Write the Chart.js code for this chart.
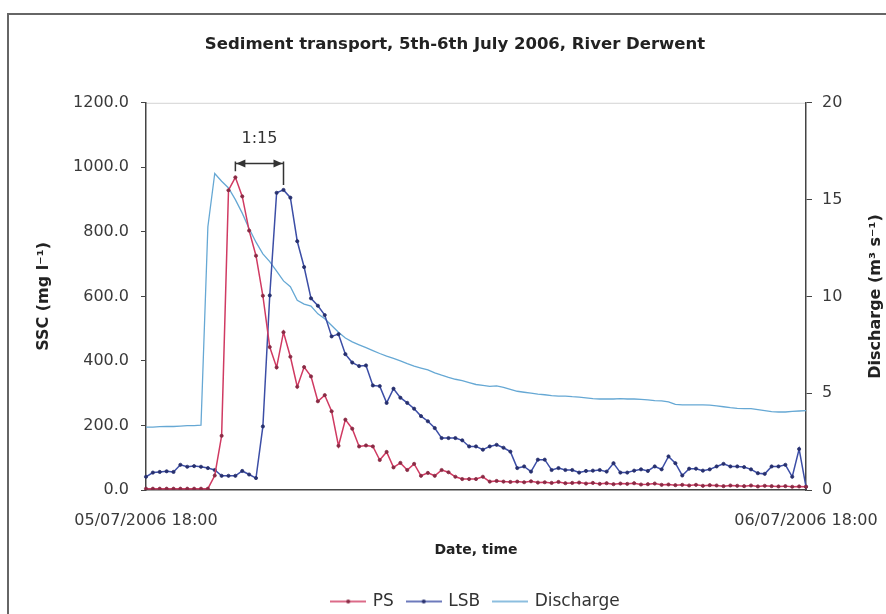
<!DOCTYPE html>
<html>
<head>
<meta charset="utf-8">
<script src="https://cdn.jsdelivr.net/npm/chart.js@4.4.0/dist/chart.umd.min.js"></script>
<style>
  html, body { margin: 0; padding: 0; background: #fff; }
  #wrap { width: 886px; height: 614px; position: relative; }
</style>
</head>
<body>
<div id="wrap"><canvas id="chart"></canvas></div>
<script>
// SSC at PS and LSB, mg/l, one reading every 15 minutes from 05/07/2006 18:00
const psSSC = [
  4, 4, 4, 4, 4, 4, 4, 4, 4, 4,
  45, 168, 929, 969, 910, 804, 726, 602, 443, 380,
  489, 413, 320, 381, 352, 275, 294, 244, 137, 218,
  190, 135, 138, 135, 93, 118, 70, 84, 62, 81,
  44, 53, 44, 62, 55, 41, 34, 34, 34, 41,
  26,
  28, 26, 25, 26, 24, 27, 23, 24, 22, 25,
  21, 22, 23, 20, 22, 19, 21, 18, 20, 19,
  21, 17, 18, 20, 16, 17, 15, 16, 14, 16,
  13, 15, 14, 12, 14, 13, 12, 14, 11, 13,
  12, 11, 12, 10, 11, 10
];
const lsbSSC = [
  41, 54, 56, 58, 56, 78, 72, 74, 72, 68,
  62, 44, 44, 44, 59, 48, 37, 197, 603, 921,
  930, 906, 771, 691, 594, 571, 542, 476, 483, 421,
  395, 384, 386, 324, 322, 270, 314, 286, 270, 252,
  229, 213, 192, 161, 161, 161, 154, 135, 135, 125,
  135, 140, 131, 119, 68, 73, 57, 94, 94, 62,
  68, 62, 62, 54, 59, 60, 62, 57, 83, 54,
  54, 60, 64, 59, 73, 64, 104, 83, 45, 66,
  66, 60, 64, 73, 81, 73, 73, 71, 64, 52,
  50, 73, 73, 78, 41, 127, 10
];
// discharge, m3/s
const discharge = [
  3.25, 3.25, 3.27, 3.28, 3.28, 3.30, 3.32, 3.33, 3.35, 13.6,
  16.35, 15.95, 15.6, 15.0, 14.3, 13.5, 12.8, 12.2, 11.8, 11.3,
  10.8, 10.5, 9.8, 9.6, 9.5, 9.1, 8.85, 8.5, 8.15, 7.85,
  7.65, 7.5, 7.35, 7.2, 7.05, 6.92, 6.8, 6.67, 6.53, 6.4,
  6.3, 6.2, 6.05, 5.93, 5.82, 5.72, 5.65, 5.55, 5.45, 5.4,
  5.35, 5.38, 5.3, 5.2, 5.1, 5.05, 5.0, 4.95, 4.92, 4.88,
  4.85, 4.85, 4.82, 4.8, 4.76, 4.72, 4.7, 4.7, 4.7, 4.72,
  4.7, 4.7, 4.68, 4.66, 4.62, 4.6, 4.55, 4.42, 4.4, 4.4,
  4.4, 4.4, 4.38, 4.35, 4.3, 4.25, 4.22, 4.2, 4.2, 4.15,
  4.1, 4.05, 4.03, 4.03, 4.06, 4.08, 4.1
];

const xTickLabels = ['05/07/2006 18:00', '06/07/2006 18:00'];
const sscTicks = [0, 200, 400, 600, 800, 1000, 1200];
const dischargeTicks = [0, 5, 10, 15, 20];
const lagLabel = '1:15';

// 15 minute time stamps for the category axis
const startTime = new Date(2006, 6, 5, 18, 0);
const pad2 = n => String(n).padStart(2, '0');
const timeLabels = psSSC.map((_, i) => {
  const d = new Date(startTime.getTime() + i * 15 * 60000);
  return pad2(d.getDate()) + '/' + pad2(d.getMonth() + 1) + '/' + d.getFullYear() + ' ' +
    pad2(d.getHours()) + ':' + pad2(d.getMinutes());
});

const FONT = "'DejaVu Sans', sans-serif";
const psColor = '#d03a62', lsbColor = '#3c4ea6', qColor = '#66a8d4';

function legendMark(color, marker) {
  const c = document.createElement('canvas');
  c.width = 36; c.height = 8;
  const g = c.getContext('2d');
  g.strokeStyle = color; g.lineWidth = 1.5;
  g.beginPath(); g.moveTo(0, 4); g.lineTo(36, 4); g.stroke();
  if (marker) {
    g.fillStyle = marker;
    g.beginPath(); g.arc(18, 4, 2, 0, Math.PI * 2); g.fill();
  }
  return c;
}
const legendMarks = [legendMark(psColor, '#8a2a44'), legendMark(lsbColor, '#27306e'), legendMark(qColor, null)];

const framePlugin = {
  id: 'frame',
  beforeDraw(chart) {
    const {ctx, chartArea} = chart;
    ctx.save();
    ctx.fillStyle = '#fff';
    ctx.fillRect(0, 0, chart.width, chart.height);
    ctx.strokeStyle = '#666';
    ctx.lineWidth = 2;
    ctx.beginPath();
    ctx.moveTo(8, chart.height); ctx.lineTo(8, 14); ctx.lineTo(chart.width, 14);
    ctx.stroke();
    ctx.strokeStyle = '#d4d4d4';
    ctx.lineWidth = 1;
    ctx.beginPath();
    ctx.moveTo(chartArea.left, chartArea.top + 0.5); ctx.lineTo(chartArea.right, chartArea.top + 0.5);
    ctx.stroke();
    ctx.restore();
  },
  afterDraw(chart) {
    // right axis title reads bottom-to-top like the left one
    const {ctx, chartArea} = chart;
    ctx.save();
    ctx.translate(876, (chartArea.top + chartArea.bottom) / 2);
    ctx.rotate(-Math.PI / 2);
    ctx.font = 'bold 16px ' + FONT;
    ctx.fillStyle = '#222';
    ctx.textAlign = 'center';
    ctx.textBaseline = 'middle';
    ctx.fillText('Discharge (m\u00B3 s\u207B\u00B9)', 0, 0);
    ctx.restore();
  }
};

const lagPlugin = {
  id: 'lag',
  afterDatasetsDraw(chart) {
    const {ctx, scales: {x, y}} = chart;
    const iFrom = psSSC.indexOf(Math.max(...psSSC));
    const iTo = lsbSSC.indexOf(Math.max(...lsbSSC));
    const x1 = x.getPixelForValue(iFrom), x2 = x.getPixelForValue(iTo);
    const yb = y.getPixelForValue(1012);
    const y1 = y.getPixelForValue(psSSC[iFrom]) - 6;
    const y2 = y.getPixelForValue(lsbSSC[iTo]) - 5;
    ctx.save();
    ctx.strokeStyle = '#333';
    ctx.fillStyle = '#333';
    ctx.lineWidth = 1.5;
    ctx.beginPath();
    ctx.moveTo(x1, yb); ctx.lineTo(x2, yb);
    ctx.moveTo(x1, yb - 2); ctx.lineTo(x1, y1);
    ctx.moveTo(x2, yb - 2); ctx.lineTo(x2, y2);
    ctx.stroke();
    ctx.beginPath();
    ctx.moveTo(x1 + 1, yb); ctx.lineTo(x1 + 10, yb - 4); ctx.lineTo(x1 + 10, yb + 4); ctx.closePath();
    ctx.moveTo(x2 - 1, yb); ctx.lineTo(x2 - 10, yb - 4); ctx.lineTo(x2 - 10, yb + 4); ctx.closePath();
    ctx.fill();
    ctx.font = '16px ' + FONT;
    ctx.textAlign = 'center';
    ctx.textBaseline = 'middle';
    ctx.fillText(lagLabel, (x1 + x2) / 2, y.getPixelForValue(1088));
    ctx.restore();
  }
};

const tickFont = {family: FONT, size: 16};
const titleFont = {family: FONT, size: 14, weight: 'bold'};

new Chart(document.getElementById('chart'), {
  type: 'line',
  data: {
    labels: timeLabels,
    datasets: [
      {
        label: 'PS', data: psSSC, yAxisID: 'y',
        borderColor: psColor, borderWidth: 1.5, tension: 0,
        pointRadius: 1.6, pointBorderWidth: 0.8,
        pointBackgroundColor: '#8a2a44', pointBorderColor: '#8a2a44'
      },
      {
        label: 'LSB', data: lsbSSC, yAxisID: 'y',
        borderColor: lsbColor, borderWidth: 1.5, tension: 0,
        pointRadius: 1.6, pointBorderWidth: 0.8,
        pointBackgroundColor: '#27306e', pointBorderColor: '#27306e'
      },
      {
        label: 'Discharge', data: discharge, yAxisID: 'y1',
        borderColor: qColor, borderWidth: 1.3, tension: 0, pointRadius: 0
      }
    ]
  },
  options: {
    responsive: true,
    maintainAspectRatio: false,
    animation: false,
    layout: {padding: {left: 24, right: 0, top: 0, bottom: -6}},
    plugins: {
      title: {
        display: true,
        text: 'Sediment transport, 5th-6th July 2006, River Derwent',
        color: '#222',
        font: {family: FONT, size: 16.5, weight: 'bold'},
        padding: {top: 35, bottom: 48}
      },
      legend: {
        position: 'bottom',
        fullSize: false,
        labels: {
          usePointStyle: true,
          pointStyleWidth: 32,
          padding: 14,
          color: '#333',
          font: {family: FONT, size: 17},
          generateLabels(chart) {
            const items = Chart.defaults.plugins.legend.labels.generateLabels(chart);
            items.forEach(it => { it.pointStyle = legendMarks[it.datasetIndex]; });
            return items;
          }
        }
      },
      tooltip: {enabled: false}
    },
    scales: {
      x: {
        type: 'category',
        grid: {display: false, drawTicks: true, tickLength: 19},
        border: {display: true, color: '#444', width: 1.5},
        ticks: {
          autoSkip: false, maxRotation: 0, minRotation: 0, padding: 2,
          color: '#3a3a3a', font: tickFont,
          callback(v, i, ticks) {
            if (i === 0) return xTickLabels[0];
            if (i === ticks.length - 1) return xTickLabels[1];
            return '';
          }
        },
        title: {display: true, text: 'Date, time', color: '#222', font: titleFont, padding: {top: 4, bottom: 20}},
        afterFit(s) { s.height = 89; }
      },
      y: {
        position: 'left',
        min: sscTicks[0], max: sscTicks[sscTicks.length - 1],
        afterBuildTicks(s) { s.ticks = sscTicks.map(v => ({value: v})); },
        grid: {drawOnChartArea: false, tickLength: 5, color: '#444'},
        border: {color: '#444', width: 1.5},
        ticks: {padding: 12, color: '#3a3a3a', font: tickFont, callback: v => Number(v).toFixed(1)},
        title: {
          display: true, text: 'SSC (mg l\u207B\u00B9)', color: '#222',
          font: {family: FONT, size: 16, weight: 'bold'}, padding: {top: 10, bottom: 0}
        },
        afterFit(s) { s.width = 122; }
      },
      y1: {
        position: 'right',
        min: dischargeTicks[0], max: dischargeTicks[dischargeTicks.length - 1],
        afterBuildTicks(s) { s.ticks = dischargeTicks.map(v => ({value: v})); },
        grid: {drawOnChartArea: false, tickLength: 6, color: '#444'},
        border: {color: '#444', width: 1.5},
        ticks: {padding: 10, color: '#3a3a3a', font: tickFont},
        afterFit(s) { s.width = 80; }
      }
    }
  },
  plugins: [framePlugin, lagPlugin]
});
</script>
</body>
</html>
